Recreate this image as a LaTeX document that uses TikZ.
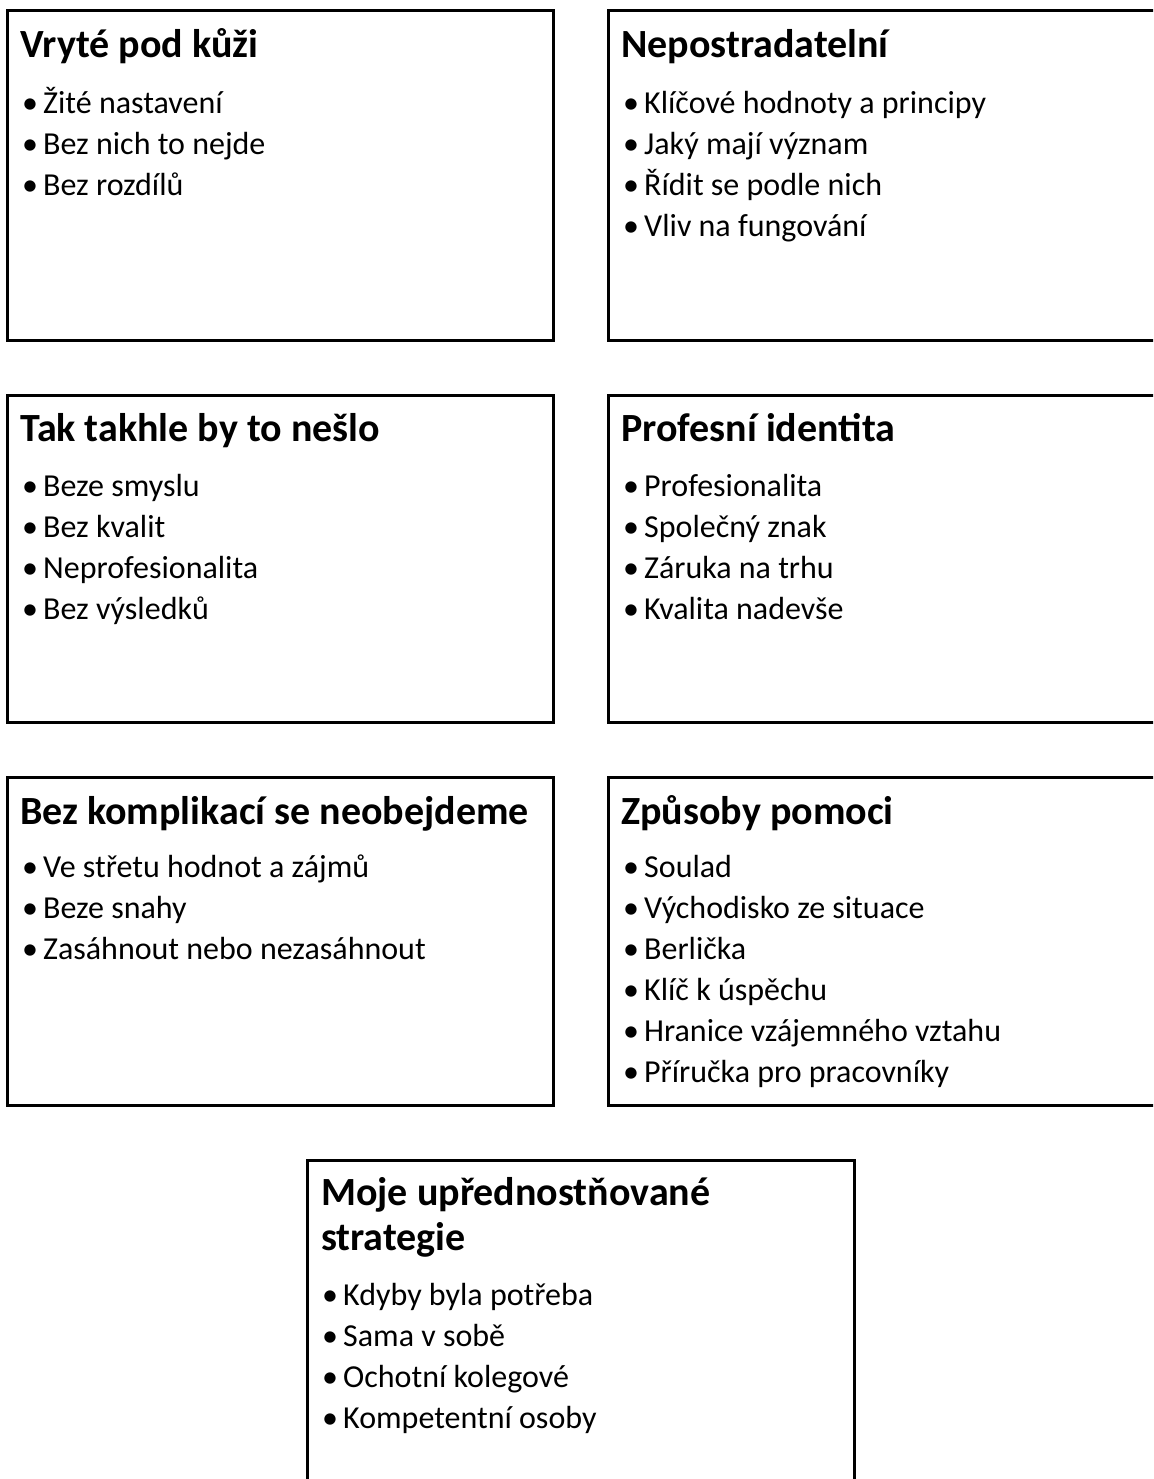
\documentclass[tikz,border=0pt]{standalone}
\usepackage{fontspec}
\setmainfont{Carlito}
\begin{document}
\begin{tikzpicture}[x=1pt,y=-1pt,
  card/.style={draw=black, line width=3pt, anchor=north west, inner sep=0pt, outer sep=0pt, minimum width=546pt},
  ttl/.style={font=\bfseries\fontsize{40}{48}\selectfont, anchor=base west, inner sep=0pt},
  itm/.style={font=\fontsize{32}{38}\selectfont, anchor=base west, inner sep=0pt}]
\useasboundingbox (0,0) rectangle (1153,1479);
\clip (0,0) rectangle (1153,1479);
% boxes
\node[card, minimum height=329pt] (b1) at (7,11) {};
\node[card, minimum height=329pt, minimum width=560pt] (b2) at (608,11) {};
\node[card, minimum height=327pt] (b3) at (7,395) {};
\node[card, minimum height=327pt, minimum width=560pt] (b4) at (608,395) {};
\node[card, minimum height=328pt] (b5) at (7,777) {};
\node[card, minimum height=328pt, minimum width=560pt] (b6) at (608,777) {};
\node[card, minimum height=340pt, minimum width=547pt] (b7) at (307,1160) {};
% titles
\node[ttl] (t1) at (20,58) {Vryté pod kůži};
\node[ttl] (t2) at (621,58) {Nepostradatelní};
\node[ttl] (t3) at (20,441) {Tak takhle by to nešlo};
\node[ttl] (t4) at (621,441) {Profesní identita};
\node[ttl] (t5) at (20,824) {Bez komplikací se neobejdeme};
\node[ttl] (t6) at (621,824) {Způsoby pomoci};
\node[ttl] (t7a) at (321,1205) {Moje upřednostňované};
\node[ttl] (t7b) at (321,1250) {strategie};
% items
\def\bul{\makebox[21pt][l]{•}}
\foreach \t [count=\i] in {Žité nastavení, Bez nich to nejde, Bez rozdílů}
  \node[itm] (i1-\i) at (22,113.5+41*\i-41) {\bul\t};
\foreach \t [count=\i] in {Klíčové hodnoty a principy, Jaký mají význam, Řídit se podle nich, Vliv na fungování}
  \node[itm] (i2-\i) at (623,113.5+41*\i-41) {\bul\t};
\foreach \t [count=\i] in {Beze smyslu, Bez kvalit, Neprofesionalita, Bez výsledků}
  \node[itm] (i3-\i) at (22,496.5+41*\i-41) {\bul\t};
\foreach \t [count=\i] in {Profesionalita, Společný znak, Záruka na trhu, Kvalita nadevše}
  \node[itm] (i4-\i) at (623,496.5+41*\i-41) {\bul\t};
\foreach \t [count=\i] in {Ve střetu hodnot a zájmů, Beze snahy, Zasáhnout nebo nezasáhnout}
  \node[itm] (i5-\i) at (22,877.5+41*\i-41) {\bul\t};
\foreach \t [count=\i] in {Soulad, Východisko ze situace, Berlička, Klíč k úspěchu, Hranice vzájemného vztahu, Příručka pro pracovníky}
  \node[itm] (i6-\i) at (623,877.5+41*\i-41) {\bul\t};
\foreach \t [count=\i] in {Kdyby byla potřeba, Sama v sobě, Ochotní kolegové, Kompetentní osoby}
  \node[itm] (i7-\i) at (322,1305.5+41*\i-41) {\bul\t};
\end{tikzpicture}
\end{document}
